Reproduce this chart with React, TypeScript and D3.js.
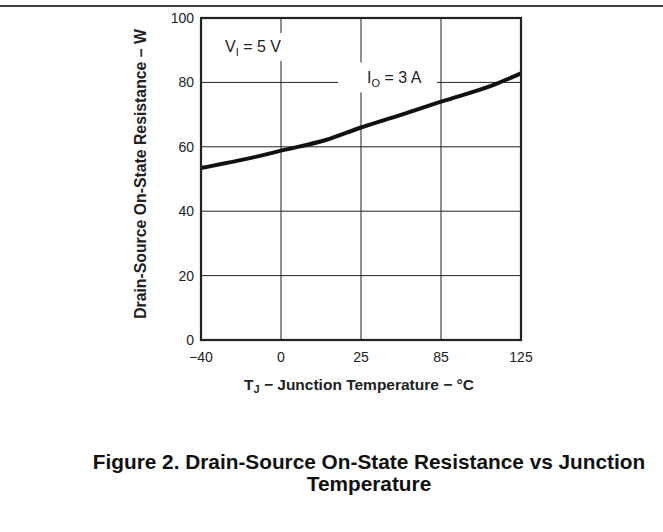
import * as d3 from 'd3'

// x axis categories (equally spaced, not linear in temperature)
const tempTicks = [-40, 0, 25, 85, 125]
const resTicks = [0, 20, 40, 60, 80, 100]

// curve: junction temperature (°C) vs resistance
const curveTemp = [-40, -9, 0, 14, 25, 55, 85, 112, 125]
const curveRes = [53.4, 57.4, 58.8, 62.1, 66.0, 69.9, 74.0, 79.4, 82.8]

const W = 663
const H = 532
const margin = { top: 18, right: 142, bottom: 192, left: 201 }
const font = '"Liberation Sans", Arial, Helvetica, sans-serif'

const App = () => {
  const width = W - margin.left - margin.right
  const height = H - margin.top - margin.bottom

  // piecewise scale so each category sits on its own grid column
  const x = d3.scaleLinear()
    .domain(tempTicks)
    .range(tempTicks.map((d, i) => (i * width) / (tempTicks.length - 1)))
  const y = d3.scaleLinear().domain([0, 100]).range([height, 0])

  const line = d3.line<number>()
    .x((d, i) => x(curveTemp[i]))
    .y(d => y(d))
    .curve(d3.curveMonotoneX)

  return (
    <svg width={W} height={H} style={{ position: 'absolute', left: 0, top: 0, background: '#fff' }}
      fontFamily={font}>
      <line x1={0} x2={W} y1={6} y2={6} stroke="#000" strokeWidth={1.5} />
      <g transform={`translate(${margin.left},${margin.top})`}>
        {/* grid */}
        {tempTicks.slice(1, -1).map(t => (
          <line key={'vx' + t} x1={x(t)} x2={x(t)} y1={0} y2={height} stroke="#222" strokeWidth={1} />
        ))}
        {resTicks.slice(1, -1).map(r => (
          <line key={'hy' + r} x1={0} x2={width} y1={y(r)} y2={y(r)} stroke="#222" strokeWidth={1} />
        ))}

        {/* label knockouts */}
        <rect x={x(0) - 61} y={y(100) + 15} width={70} height={28} fill="#fff" />
        <rect x={x(25) - 23} y={y(80) - 20} width={99} height={30} fill="#fff" />

        <path d={line(curveRes) || ''} fill="none" stroke="#111" strokeWidth={4} strokeLinejoin="round" />

        {/* frame */}
        <rect x={0} y={0} width={width} height={height} fill="none" stroke="#222" strokeWidth={2.2} />

        {/* tick labels */}
        {tempTicks.map(t => (
          <text key={'tx' + t} x={x(t)} y={height + 22} textAnchor="middle" fontSize={14} fill="#222">
            {t < 0 ? '\u2212' + Math.abs(t) : t}
          </text>
        ))}
        {resTicks.map(r => (
          <text key={'ty' + r} x={-7} y={y(r)} dy="0.35em" textAnchor="end" fontSize={14} fill="#222">
            {r}
          </text>
        ))}

        {/* annotations */}
        <text x={x(0) - 56} y={y(100) + 34} fontSize={16} fill="#222">
          V<tspan dy={4} fontSize={11}>I</tspan><tspan dy={-4}> = 5 V</tspan>
        </text>
        <text x={x(25) + 6} y={y(80) + 1} fontSize={16} fill="#222">
          I<tspan dy={4} fontSize={11}>O</tspan><tspan dy={-4}> = 3 A</tspan>
        </text>

        {/* axis titles */}
        <text x={width / 2 - 2} y={height + 50} textAnchor="middle" fontSize={15.5} fontWeight="bold" fill="#222">
          T<tspan dy={3} fontSize={11}>J</tspan><tspan dy={-3}> {'\u2212'} Junction Temperature {'\u2212'} °C</tspan>
        </text>
        <text transform={`translate(-55,${height / 2 - 5}) rotate(-90)`} textAnchor="middle"
          fontSize={15.8} fontWeight="bold" fill="#222">
          Drain-Source On-State Resistance {'\u2013'} W
        </text>
      </g>

      {/* figure caption */}
      <text x={369} y={469} textAnchor="middle" fontSize={20.8} fontWeight="bold" fill="#111">
        Figure 2. Drain-Source On-State Resistance vs Junction
      </text>
      <text x={369} y={491} textAnchor="middle" fontSize={20.8} fontWeight="bold" fill="#111">
        Temperature
      </text>
    </svg>
  )
}

export default App
